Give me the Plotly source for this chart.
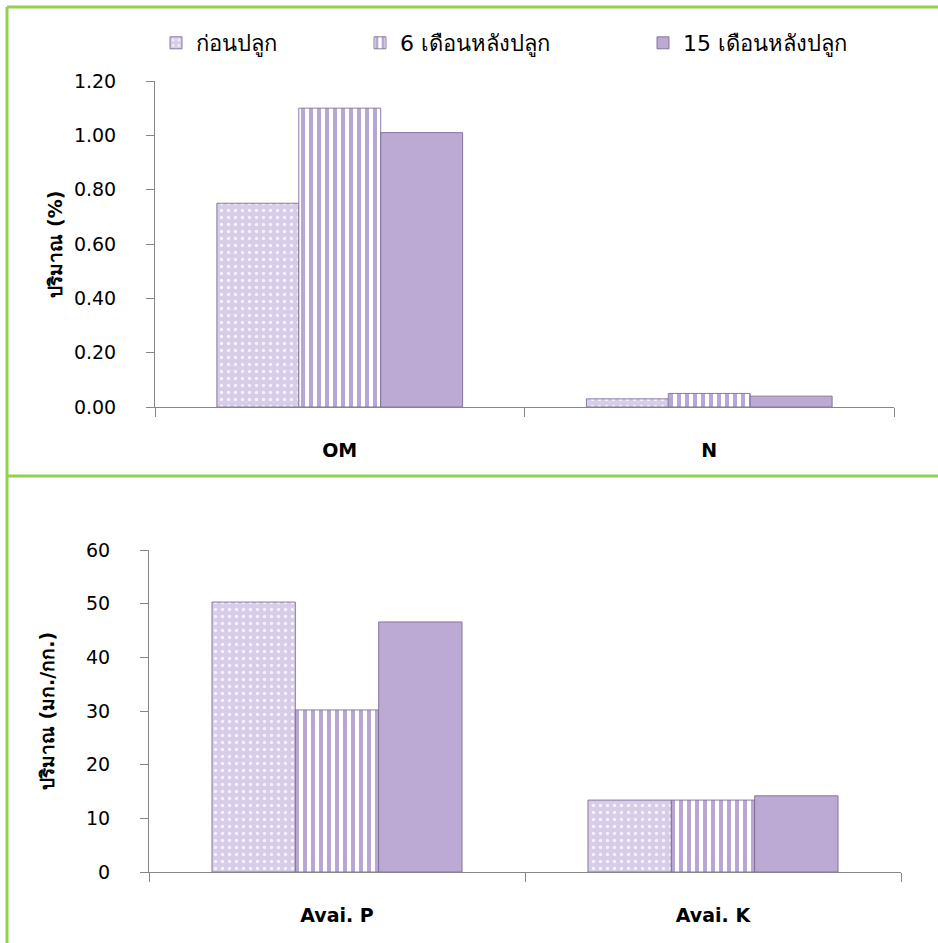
import plotly.graph_objects as go

# ---------------- data ----------------
series_names = ["ก่อนปลูก", "6 เดือนหลังปลูก", "15 เดือนหลังปลูก"]

top_categories = ["OM", "N"]
top_before = [0.75, 0.03]
top_6m = [1.10, 0.05]
top_15m = [1.01, 0.04]
top_ticks = [0.0, 0.2, 0.4, 0.6, 0.8, 1.0, 1.2]

bottom_categories = ["Avai. P", "Avai. K"]
bottom_before = [50.3, 13.4]
bottom_6m = [30.2, 13.4]
bottom_15m = [46.6, 14.2]
bottom_ticks = [0, 10, 20, 30, 40, 50, 60]

# ---------------- styles ----------------
W, H = 938, 943
FONT = "DejaVu Sans"
AXIS_COLOR = "#868686"
GREEN = "#92d050"
LAV = "#bcaad4"
EDGE = "rgba(125,110,150,0.9)"

styles = [
    dict(color="#d8cde8",
         pattern=dict(shape=".", fgcolor="#f6f2fb", bgcolor="#d8cde8", size=7, solidity=0.18, fillmode="replace")),
    dict(color="white",
         pattern=dict(shape="|", fgcolor="#b9a7d3", bgcolor="white", size=8, solidity=0.5, fillmode="replace")),
    dict(color=LAV),
]

fig = go.Figure()

top_series = [top_before, top_6m, top_15m]
bottom_series = [bottom_before, bottom_6m, bottom_15m]
legends = ["legend", "legend2", "legend3"]

for i, name in enumerate(series_names):
    fig.add_trace(go.Bar(
        x=top_categories, y=top_series[i], name=name,
        marker=dict(**styles[i], line=dict(color=EDGE, width=1)),
        xaxis="x", yaxis="y", legend=legends[i], showlegend=True,
        hoverinfo="x+y+name",
    ))
for i, name in enumerate(series_names):
    fig.add_trace(go.Bar(
        x=bottom_categories, y=bottom_series[i], name=name,
        marker=dict(**styles[i], line=dict(color=EDGE, width=1)),
        xaxis="x2", yaxis="y2", showlegend=False,
        hoverinfo="x+y+name",
    ))

def px(x):
    return x / W

def py(y):
    return 1 - y / H

xaxis_common = dict(
    type="category", showline=True, linecolor=AXIS_COLOR, linewidth=1,
    ticks="outside", tickson="boundaries", ticklen=9, tickcolor=AXIS_COLOR,
    tickfont=dict(family=FONT, size=19, color="black", weight="bold"),
    ticklabelstandoff=26, showgrid=False, zeroline=False, fixedrange=True,
    automargin=False,
)
yaxis_common = dict(
    showline=True, linecolor=AXIS_COLOR, linewidth=1,
    ticks="outside", ticklen=8, tickcolor=AXIS_COLOR,
    tickfont=dict(family=FONT, size=19, color="black"),
    ticklabelstandoff=26, showgrid=False, zeroline=False, fixedrange=True,
    automargin=False,
)

legend_common = dict(
    orientation="h", yanchor="middle", xanchor="left",
    font=dict(family=FONT, size=22, color="black"),
    bgcolor="rgba(0,0,0,0)", borderwidth=0, itemclick=False, itemdoubleclick=False,
)

fig.update_layout(
    width=W, height=H,
    margin=dict(l=0, r=0, t=0, b=0, autoexpand=False),
    paper_bgcolor="white", plot_bgcolor="white",
    barmode="group", bargap=0.335, bargroupgap=0,
    xaxis=dict(**xaxis_common, domain=[px(155), px(894)], anchor="y"),
    yaxis=dict(**yaxis_common, domain=[py(407), py(81)], anchor="x",
               range=[0, 1.2], tickvals=top_ticks, tickformat=".2f",
               title=dict(text="<b>ปริมาณ (%)</b>", standoff=6,
                          font=dict(family=FONT, size=19, color="black"))),
    xaxis2=dict(**xaxis_common, domain=[px(149), px(901)], anchor="y2"),
    yaxis2=dict(**yaxis_common, domain=[py(872), py(550)], anchor="x2",
                range=[0, 60], tickvals=bottom_ticks,
                title=dict(text="<b>ปริมาณ (มก./กก.)</b>", standoff=26,
                           font=dict(family=FONT, size=19, color="black"))),
    legend=dict(**legend_common, x=px(156), y=py(43)),
    legend2=dict(**legend_common, x=px(360), y=py(43)),
    legend3=dict(**legend_common, x=px(643), y=py(43)),
    showlegend=True,
    shapes=[
        dict(type="line", xref="paper", yref="paper", x0=px(7), x1=1, y0=py(7), y1=py(7),
             line=dict(color=GREEN, width=3)),
        dict(type="line", xref="paper", yref="paper", x0=px(7), x1=px(7), y0=0, y1=py(7),
             line=dict(color=GREEN, width=3)),
        dict(type="line", xref="paper", yref="paper", x0=px(7), x1=1, y0=py(476), y1=py(476),
             line=dict(color=GREEN, width=3)),
    ],
)

fig.write_html(
    "out.html",
    config={"displayModeBar": False},
    post_script="document.body.style.margin='0';document.body.style.overflow='hidden';",
)
